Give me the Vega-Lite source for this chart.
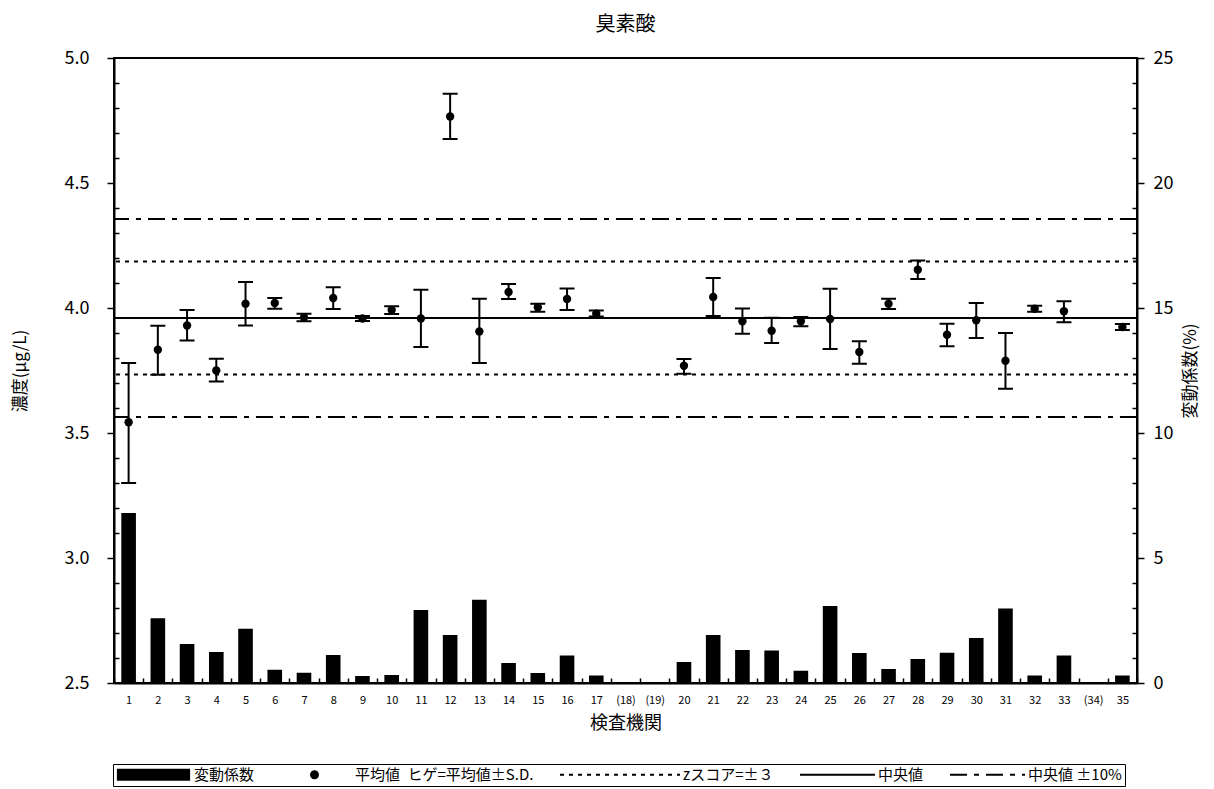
{
  "$schema": "https://vega.github.io/schema/vega-lite/v6.json",
  "width": 1023,
  "height": 625,
  "autosize": {"type": "none"},
  "padding": {"left": 114, "top": 58, "right": 77, "bottom": 106},
  "title": {"text": "臭素酸", "fontSize": 20, "fontWeight": "normal", "offset": 14, "color": "black", "anchor": "middle"},
  "config": {
    "font": "Noto Sans CJK JP",
    "view": {"stroke": "black", "strokeWidth": 2},
    "axis": {"grid": false, "domainColor": "black", "domainWidth": 2, "tickColor": "black", "tickWidth": 1.5, "labelColor": "black", "titleColor": "black", "titleFontWeight": "normal", "labelOverlap": false}
  },
  "datasets": {
    "labs": [
      {"lab": "1", "mean": 3.543, "lo": 3.30, "hi": 3.78, "cv": 6.8},
      {"lab": "2", "mean": 3.833, "lo": 3.733, "hi": 3.929, "cv": 2.59},
      {"lab": "3", "mean": 3.930, "lo": 3.870, "hi": 3.992, "cv": 1.56},
      {"lab": "4", "mean": 3.750, "lo": 3.706, "hi": 3.797, "cv": 1.24},
      {"lab": "5", "mean": 4.017, "lo": 3.930, "hi": 4.104, "cv": 2.17},
      {"lab": "6", "mean": 4.020, "lo": 3.997, "hi": 4.040, "cv": 0.53},
      {"lab": "7", "mean": 3.962, "lo": 3.947, "hi": 3.977, "cv": 0.41},
      {"lab": "8", "mean": 4.040, "lo": 3.996, "hi": 4.083, "cv": 1.12},
      {"lab": "9", "mean": 3.958, "lo": 3.948, "hi": 3.968, "cv": 0.28},
      {"lab": "10", "mean": 3.992, "lo": 3.976, "hi": 4.007, "cv": 0.32},
      {"lab": "11", "mean": 3.958, "lo": 3.844, "hi": 4.073, "cv": 2.92},
      {"lab": "12", "mean": 4.766, "lo": 4.676, "hi": 4.857, "cv": 1.92},
      {"lab": "13", "mean": 3.906, "lo": 3.780, "hi": 4.037, "cv": 3.33},
      {"lab": "14", "mean": 4.064, "lo": 4.036, "hi": 4.096, "cv": 0.80},
      {"lab": "15", "mean": 4.003, "lo": 3.985, "hi": 4.017, "cv": 0.40},
      {"lab": "16", "mean": 4.036, "lo": 3.992, "hi": 4.078, "cv": 1.10},
      {"lab": "17", "mean": 3.977, "lo": 3.966, "hi": 3.990, "cv": 0.30},
      {"lab": "20", "mean": 3.769, "lo": 3.737, "hi": 3.796, "cv": 0.84},
      {"lab": "21", "mean": 4.044, "lo": 3.968, "hi": 4.120, "cv": 1.92},
      {"lab": "22", "mean": 3.947, "lo": 3.897, "hi": 3.998, "cv": 1.32},
      {"lab": "23", "mean": 3.909, "lo": 3.860, "hi": 3.961, "cv": 1.30},
      {"lab": "24", "mean": 3.947, "lo": 3.927, "hi": 3.964, "cv": 0.49},
      {"lab": "25", "mean": 3.956, "lo": 3.836, "hi": 4.077, "cv": 3.08},
      {"lab": "26", "mean": 3.824, "lo": 3.777, "hi": 3.867, "cv": 1.20},
      {"lab": "27", "mean": 4.017, "lo": 3.996, "hi": 4.037, "cv": 0.56},
      {"lab": "28", "mean": 4.153, "lo": 4.116, "hi": 4.190, "cv": 0.96},
      {"lab": "29", "mean": 3.893, "lo": 3.847, "hi": 3.937, "cv": 1.21},
      {"lab": "30", "mean": 3.951, "lo": 3.880, "hi": 4.020, "cv": 1.80},
      {"lab": "31", "mean": 3.789, "lo": 3.677, "hi": 3.900, "cv": 2.98},
      {"lab": "32", "mean": 3.997, "lo": 3.985, "hi": 4.009, "cv": 0.30},
      {"lab": "33", "mean": 3.987, "lo": 3.943, "hi": 4.027, "cv": 1.10},
      {"lab": "35", "mean": 3.924, "lo": 3.912, "hi": 3.936, "cv": 0.30}
    ],
    "lines": [
      {"series": "中央値 ±10%", "value": 4.356},
      {"series": "zスコア=±３", "value": 4.186},
      {"series": "中央値", "value": 3.96},
      {"series": "zスコア=±３", "value": 3.734},
      {"series": "中央値 ±10%", "value": 3.564}
    ]
  },
  "layer": [
    {
      "data": {"name": "labs"},
      "mark": {"type": "bar", "color": "black", "width": {"band": 0.5}},
      "encoding": {
        "x": {"field": "lab", "type": "nominal", "sort": null, "title": "検査機関",
          "scale": {"domain": ["1","2","3","4","5","6","7","8","9","10","11","12","13","14","15","16","17","(18)","(19)","20","21","22","23","24","25","26","27","28","29","30","31","32","33","(34)","35"], "paddingInner": 0, "paddingOuter": 0},
          "axis": {"labelAngle": 0, "labelFontSize": 11, "labelPadding": 16, "tickBand": "extent", "tickSize": -5, "titleFontSize": 18, "titlePadding": 9, "labelOverlap": false}},
        "y": {"field": "cv", "type": "quantitative", "title": "変動係数(%)",
          "scale": {"domain": [0, 25], "nice": false, "zero": true},
          "axis": {"orient": "right", "values": [0,1,2,3,4,5,6,7,8,9,10,11,12,13,14,15,16,17,18,19,20,21,22,23,24,25],
            "labelExpr": "datum.value % 5 === 0 ? datum.label : ''",
            "tickSize": {"condition": {"test": "datum.value % 5 === 0", "value": 7}, "value": -5},
            "labelFontSize": 18, "labelPadding": 9, "labelOverlap": false, "labelFlush": false,
            "titleFontSize": 17, "titleAngle": 270, "titlePadding": 27}}
      }
    },
    {
      "layer": [
        {
          "data": {"name": "lines"},
          "mark": {"type": "rule", "color": "black", "strokeWidth": 2},
          "encoding": {
            "y": {"field": "value", "type": "quantitative", "title": "濃度(μg/L)",
              "scale": {"domain": [2.5, 5.0], "nice": false, "zero": false},
              "axis": {"orient": "left", "values": [2.5,2.6,2.7,2.8,2.9,3.0,3.1,3.2,3.3,3.4,3.5,3.6,3.7,3.8,3.9,4.0,4.1,4.2,4.3,4.4,4.5,4.6,4.7,4.8,4.9,5.0],
                "labelExpr": "abs(datum.value*2 - round(datum.value*2)) < 0.001 ? format(datum.value, '.1f') : ''",
                "tickSize": {"condition": {"test": "abs(datum.value*2 - round(datum.value*2)) < 0.001", "value": 7}, "value": -5},
                "labelFontSize": 18, "labelPadding": 18, "labelOverlap": false, "labelFlush": false,
                "titleFontSize": 17, "titlePadding": 35}},
            "strokeDash": {"field": "series", "type": "nominal",
              "scale": {"domain": ["変動係数", "平均値\u2002ヒゲ=平均値±S.D.", "zスコア=±３", "中央値", "中央値 ±10%"], "range": [[1,0],[1,0],[4,5],[1,0],[17,7,5,7]]},
              "legend": {"title": null, "orient": "none", "legendX": -1, "legendY": 706, "direction": "horizontal",
                "symbolType": {"expr": "(datum.value === '変動係数' ? 'M-6.1,-1H6.1V1H-6.1Z' : (datum.value === '平均値\u2002ヒゲ=平均値±S.D.' ? 'M0,-0.75A0.75,0.75,0,1,1,0,0.75A0.75,0.75,0,1,1,0,-0.75Z' : (datum.value === 'zスコア=±３' ? 'M-13.75,0H6.25' : 'M-6.25,0H6.25')))"},
                "symbolSize": 144,
                "symbolOffset": 30,
                "symbolFillColor": {"expr": "((datum.value === '変動係数' || datum.value === '平均値\u2002ヒゲ=平均値±S.D.') ? 'black' : 'transparent')"},
                "symbolStrokeColor": "black",
                "symbolStrokeWidth": {"expr": "((datum.value === '変動係数' || datum.value === '平均値\u2002ヒゲ=平均値±S.D.') ? 0 : 2)"},
                "symbolOpacity": 1,
                "labelFontSize": 15, "labelOffset": 33, "labelColor": "black", "labelLimit": 400,
                "columnPadding": 22, "padding": 3, "strokeColor": "black", "fillColor": "white"}}
          }
        },
        {
          "data": {"name": "labs"},
          "mark": {"type": "rule", "color": "black", "strokeWidth": 2},
          "encoding": {
            "x": {"field": "lab", "type": "nominal", "sort": null, "title": "検査機関",
              "scale": {"domain": ["1","2","3","4","5","6","7","8","9","10","11","12","13","14","15","16","17","(18)","(19)","20","21","22","23","24","25","26","27","28","29","30","31","32","33","(34)","35"], "paddingInner": 0, "paddingOuter": 0},
              "axis": {"labelAngle": 0, "labelFontSize": 11, "labelPadding": 16, "tickBand": "extent", "tickSize": -5, "titleFontSize": 18, "titlePadding": 9, "labelOverlap": false}},
            "y": {"field": "lo", "type": "quantitative", "title": "濃度(μg/L)", "scale": {"domain": [2.5, 5.0], "nice": false, "zero": false},
              "axis": {"orient": "left", "values": [2.5,2.6,2.7,2.8,2.9,3.0,3.1,3.2,3.3,3.4,3.5,3.6,3.7,3.8,3.9,4.0,4.1,4.2,4.3,4.4,4.5,4.6,4.7,4.8,4.9,5.0],
                "labelExpr": "abs(datum.value*2 - round(datum.value*2)) < 0.001 ? format(datum.value, '.1f') : ''",
                "tickSize": {"condition": {"test": "abs(datum.value*2 - round(datum.value*2)) < 0.001", "value": 7}, "value": -5},
                "labelFontSize": 18, "labelPadding": 18, "labelOverlap": false, "labelFlush": false,
                "titleFontSize": 17, "titlePadding": 35}},
            "y2": {"field": "hi"}
          }
        },
        {
          "data": {"name": "labs"},
          "mark": {"type": "tick", "color": "black", "size": 15, "thickness": 2, "opacity": 1},
          "encoding": {
            "x": {"field": "lab", "type": "nominal", "sort": null, "title": "検査機関",
              "scale": {"domain": ["1","2","3","4","5","6","7","8","9","10","11","12","13","14","15","16","17","(18)","(19)","20","21","22","23","24","25","26","27","28","29","30","31","32","33","(34)","35"], "paddingInner": 0, "paddingOuter": 0},
              "axis": {"labelAngle": 0, "labelFontSize": 11, "labelPadding": 16, "tickBand": "extent", "tickSize": -5, "titleFontSize": 18, "titlePadding": 9, "labelOverlap": false}},
            "y": {"field": "lo", "type": "quantitative", "title": "濃度(μg/L)", "scale": {"domain": [2.5, 5.0], "nice": false, "zero": false},
              "axis": {"orient": "left", "values": [2.5,2.6,2.7,2.8,2.9,3.0,3.1,3.2,3.3,3.4,3.5,3.6,3.7,3.8,3.9,4.0,4.1,4.2,4.3,4.4,4.5,4.6,4.7,4.8,4.9,5.0],
                "labelExpr": "abs(datum.value*2 - round(datum.value*2)) < 0.001 ? format(datum.value, '.1f') : ''",
                "tickSize": {"condition": {"test": "abs(datum.value*2 - round(datum.value*2)) < 0.001", "value": 7}, "value": -5},
                "labelFontSize": 18, "labelPadding": 18, "labelOverlap": false, "labelFlush": false,
                "titleFontSize": 17, "titlePadding": 35}}
          }
        },
        {
          "data": {"name": "labs"},
          "mark": {"type": "tick", "color": "black", "size": 15, "thickness": 2, "opacity": 1},
          "encoding": {
            "x": {"field": "lab", "type": "nominal", "sort": null, "title": "検査機関",
              "scale": {"domain": ["1","2","3","4","5","6","7","8","9","10","11","12","13","14","15","16","17","(18)","(19)","20","21","22","23","24","25","26","27","28","29","30","31","32","33","(34)","35"], "paddingInner": 0, "paddingOuter": 0},
              "axis": {"labelAngle": 0, "labelFontSize": 11, "labelPadding": 16, "tickBand": "extent", "tickSize": -5, "titleFontSize": 18, "titlePadding": 9, "labelOverlap": false}},
            "y": {"field": "hi", "type": "quantitative", "title": "濃度(μg/L)", "scale": {"domain": [2.5, 5.0], "nice": false, "zero": false},
              "axis": {"orient": "left", "values": [2.5,2.6,2.7,2.8,2.9,3.0,3.1,3.2,3.3,3.4,3.5,3.6,3.7,3.8,3.9,4.0,4.1,4.2,4.3,4.4,4.5,4.6,4.7,4.8,4.9,5.0],
                "labelExpr": "abs(datum.value*2 - round(datum.value*2)) < 0.001 ? format(datum.value, '.1f') : ''",
                "tickSize": {"condition": {"test": "abs(datum.value*2 - round(datum.value*2)) < 0.001", "value": 7}, "value": -5},
                "labelFontSize": 18, "labelPadding": 18, "labelOverlap": false, "labelFlush": false,
                "titleFontSize": 17, "titlePadding": 35}}
          }
        },
        {
          "data": {"name": "labs"},
          "mark": {"type": "point", "filled": true, "shape": "circle", "size": 70, "color": "black", "opacity": 1},
          "encoding": {
            "x": {"field": "lab", "type": "nominal", "sort": null, "title": "検査機関",
              "scale": {"domain": ["1","2","3","4","5","6","7","8","9","10","11","12","13","14","15","16","17","(18)","(19)","20","21","22","23","24","25","26","27","28","29","30","31","32","33","(34)","35"], "paddingInner": 0, "paddingOuter": 0},
              "axis": {"labelAngle": 0, "labelFontSize": 11, "labelPadding": 16, "tickBand": "extent", "tickSize": -5, "titleFontSize": 18, "titlePadding": 9, "labelOverlap": false}},
            "y": {"field": "mean", "type": "quantitative", "title": "濃度(μg/L)", "scale": {"domain": [2.5, 5.0], "nice": false, "zero": false},
              "axis": {"orient": "left", "values": [2.5,2.6,2.7,2.8,2.9,3.0,3.1,3.2,3.3,3.4,3.5,3.6,3.7,3.8,3.9,4.0,4.1,4.2,4.3,4.4,4.5,4.6,4.7,4.8,4.9,5.0],
                "labelExpr": "abs(datum.value*2 - round(datum.value*2)) < 0.001 ? format(datum.value, '.1f') : ''",
                "tickSize": {"condition": {"test": "abs(datum.value*2 - round(datum.value*2)) < 0.001", "value": 7}, "value": -5},
                "labelFontSize": 18, "labelPadding": 18, "labelOverlap": false, "labelFlush": false,
                "titleFontSize": 17, "titlePadding": 35}}
          }
        }
      ]
    }
  ],
  "resolve": {"scale": {"y": "independent"}}
}
